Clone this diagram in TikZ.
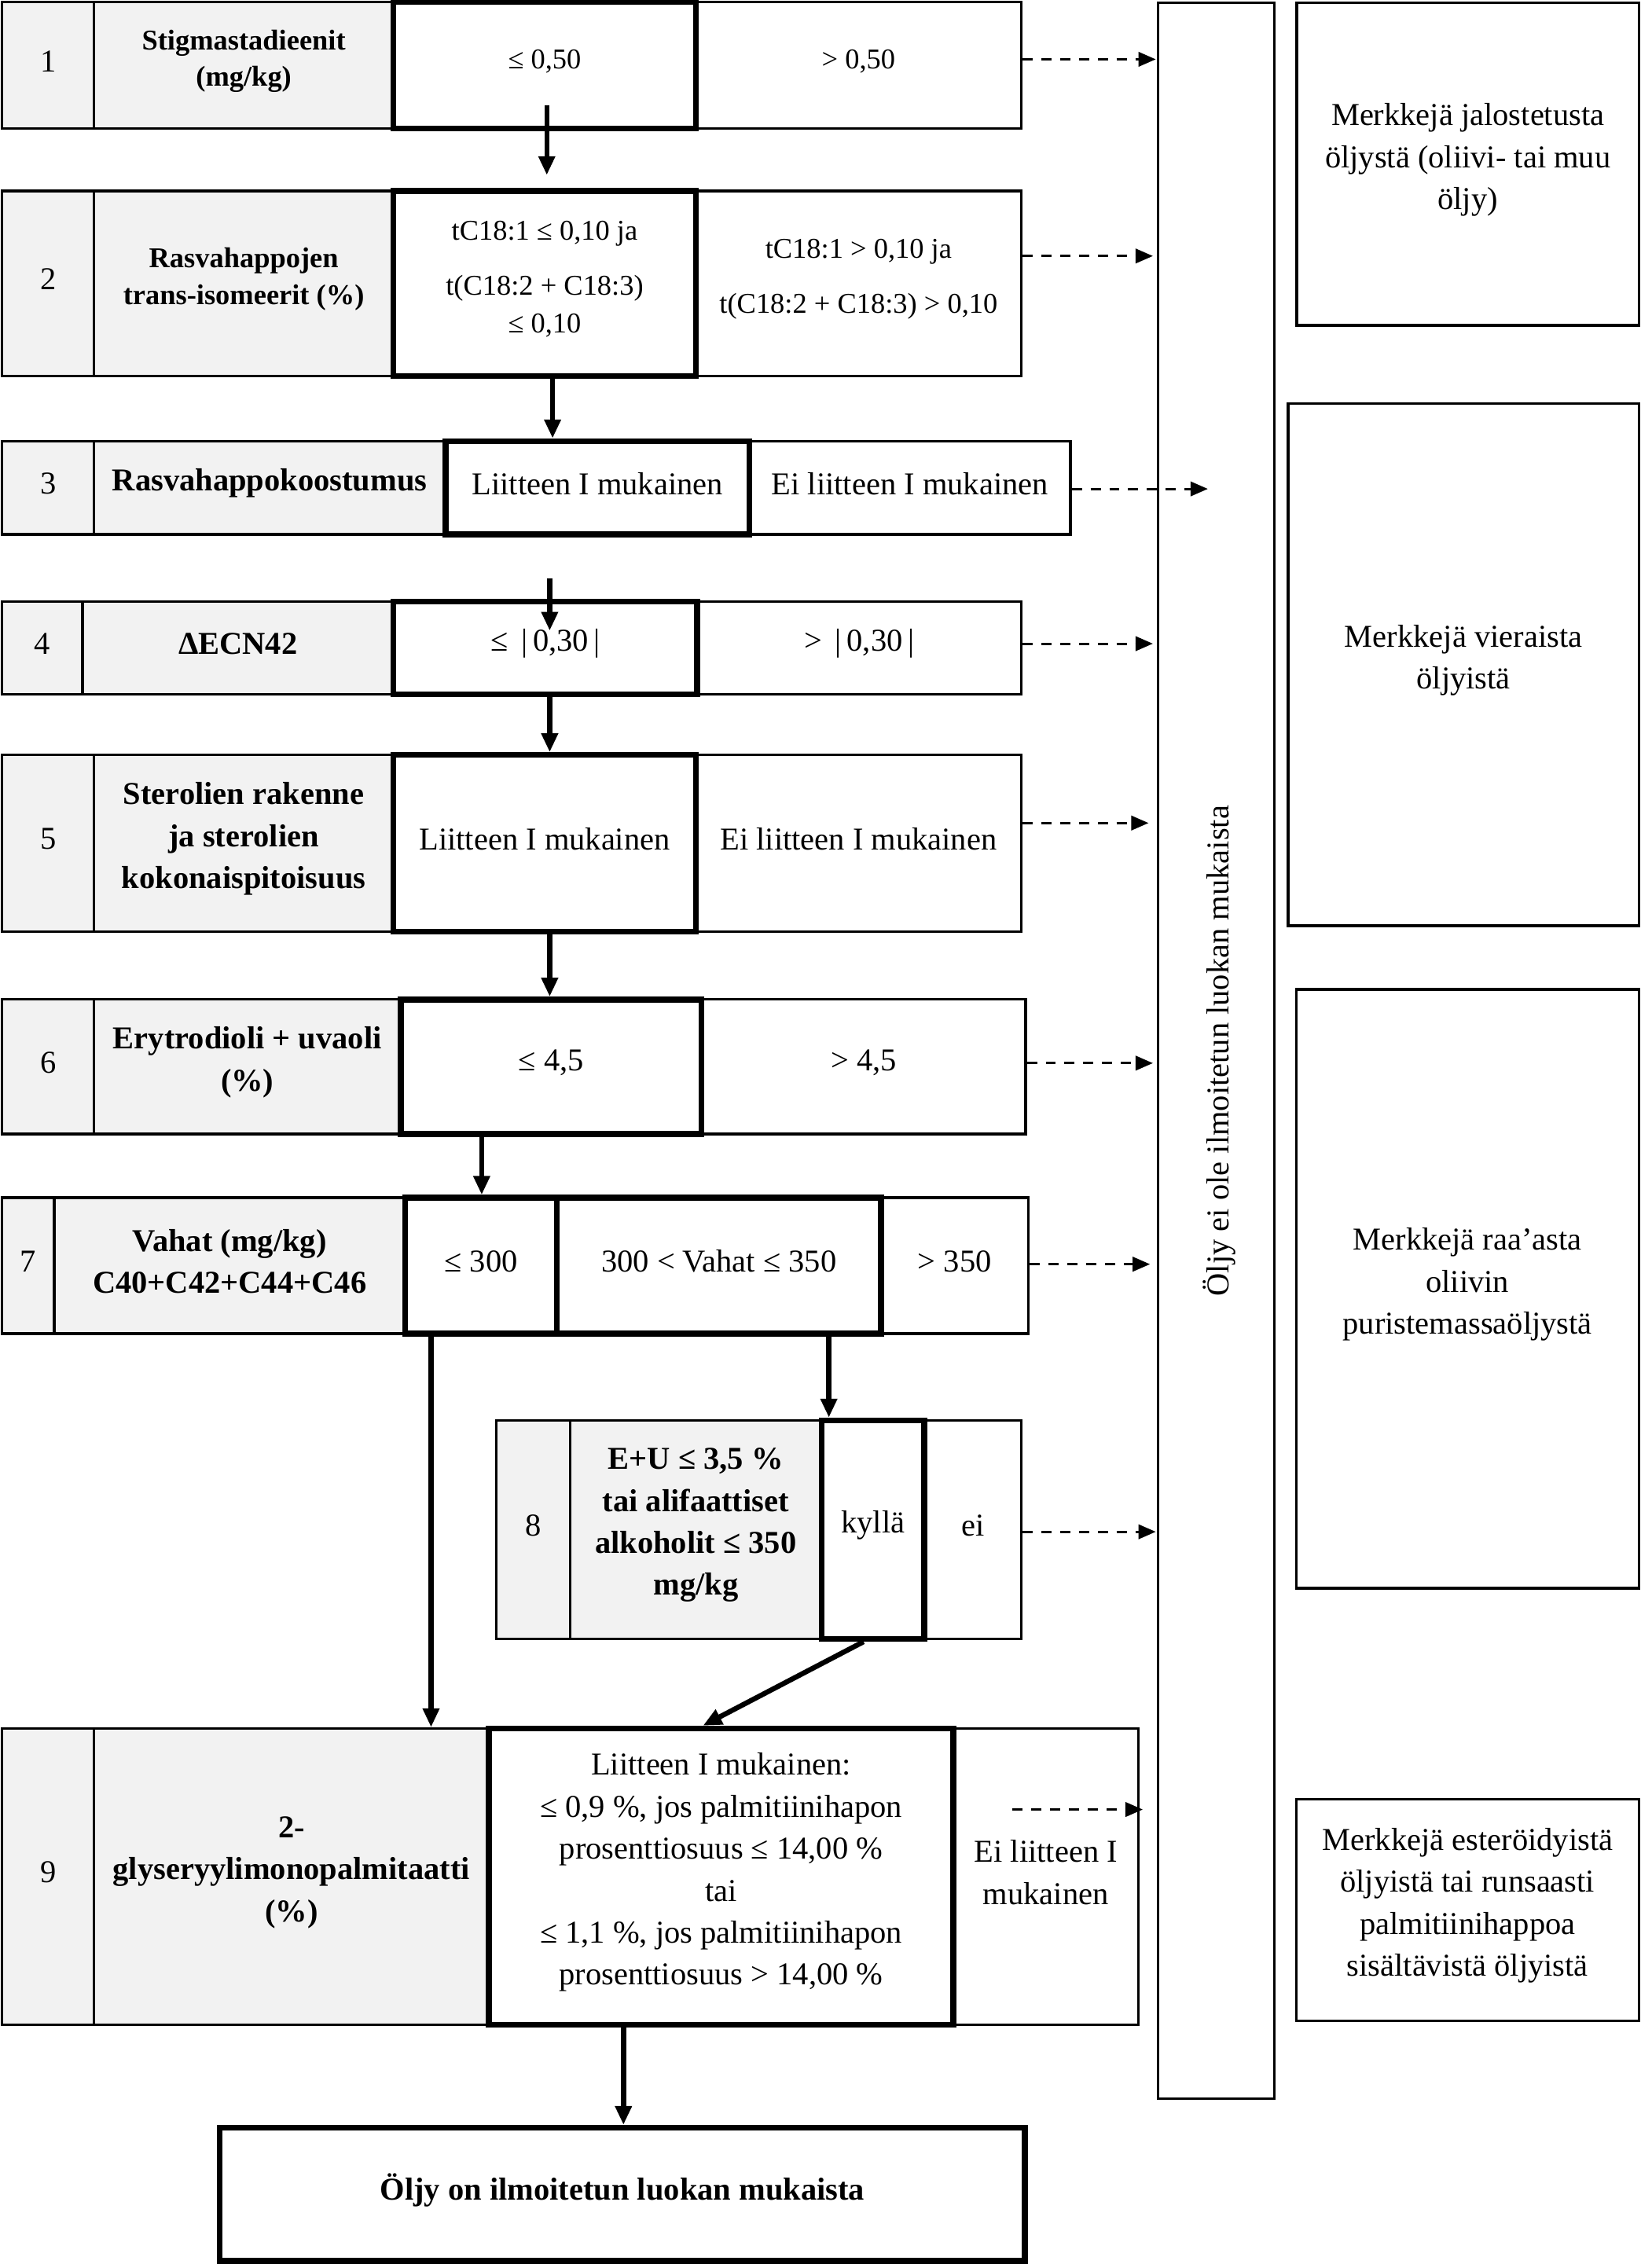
\documentclass[tikz,border=0pt]{standalone}
\usepackage{fontspec}
\setmainfont{Liberation Serif}
\usetikzlibrary{arrows.meta}
\definecolor{cellgray}{RGB}{242,242,242}
% #1 name, #2 box style, #3 text style, #4 x1, #5 y1, #6 x2, #7 y2, #8 text
\newcommand\cellbox[8]{%
  \node[#2, minimum width={(#6)-(#4)}, minimum height={(#7)-(#5)}] (#1) at ({((#4)+(#6))/2},{((#5)+(#7))/2}) {};
  \node[#3, yshift=3pt] (#1t) at (#1.center) {#8};
}
\begin{document}
\begin{tikzpicture}[x=1pt,y=-1pt,
  cellg/.style={draw, line width=1.8pt, fill=cellgray, inner sep=0pt},
  cellw/.style={draw, line width=1.8pt, fill=white, inner sep=0pt},
  cellt/.style={draw, line width=4pt, fill=white, inner sep=0pt},
  txt/.style={font=\fontsize{22}{29}\selectfont, align=center, inner sep=0pt},
  txtb/.style={font=\fontsize{22}{29}\selectfont\bfseries, align=center, inner sep=0pt},
  txts/.style={font=\fontsize{19.8}{26}\selectfont, align=center, inner sep=0pt},
  txtsb/.style={font=\fontsize{19.8}{25}\selectfont\bfseries, align=center, inner sep=0pt},
  arr/.style={line width=3.5pt, -{Triangle[width=11pt,length=13pt]}},
  darr/.style={line width=1.6pt, dash pattern=on 7pt off 6pt, -{Triangle[width=10pt,length=12pt]}}]
\useasboundingbox (0,0) rectangle (1134,1568);

% Row 1
\cellbox{n1}{cellg}{txt}{1.5}{1.5}{65}{89}{1}
\cellbox{l1}{cellg}{txtsb}{65}{1.5}{272}{89}{Stigmastadieenit\\(mg/kg)}
\cellbox{r1d}{cellw}{txts}{481}{1.5}{706}{89}{> 0,50}
\cellbox{r1c}{cellt}{txts}{272}{1.5}{481}{89}{≤ 0,50}

% Row 2
\cellbox{n2}{cellg}{txt}{1.5}{132}{65}{260}{2}
\cellbox{l2}{cellg}{txtsb}{65}{132}{272}{260}{Rasvahappojen\\trans-isomeerit (\%)}
\cellbox{r2d}{cellw}{txts}{481}{132}{706}{260}{tC18:1 > 0,10 ja\\[12pt]t(C18:2 + C18:3) > 0,10}
\cellbox{r2c}{cellt}{txts}{272}{132}{481}{260}{tC18:1 ≤ 0,10 ja\\[12pt]t(C18:2 + C18:3)\\≤ 0,10}

% Row 3
\cellbox{n3}{cellg}{txt}{1.5}{305}{65}{369.5}{3}
\cellbox{l3}{cellg}{txtb}{65}{305}{308}{369.5}{Rasvahappokoostumus}
\cellbox{r3d}{cellw}{txt}{518}{305}{740}{369.5}{Ei liitteen I mukainen}
\cellbox{r3c}{cellt}{txt}{308}{305}{518}{369.5}{Liitteen I mukainen}

% Row 4
\cellbox{n4}{cellg}{txt}{1.5}{416}{57}{480}{4}
\cellbox{l4}{cellg}{txtb}{57}{416}{272}{480}{ΔECN42}
\cellbox{r4d}{cellw}{txt}{482}{416}{706}{480}{> \,|\,0,30\,|}
\cellbox{r4c}{cellt}{txt}{272}{416}{482}{480}{≤ \,|\,0,30\,|}

% Row 5
\cellbox{n5}{cellg}{txt}{1.5}{522}{65}{644}{5}
\cellbox{l5}{cellg}{txtb}{65}{522}{272}{644}{Sterolien rakenne\\ja sterolien\\kokonaispitoisuus}
\cellbox{r5d}{cellw}{txt}{481}{522}{706}{644}{Ei liitteen I mukainen}
\cellbox{r5c}{cellt}{txt}{272}{522}{481}{644}{Liitteen I mukainen}

% Row 6
\cellbox{n6}{cellg}{txt}{1.5}{691}{65}{784}{6}
\cellbox{l6}{cellg}{txtb}{65}{691}{277}{784}{Erytrodioli + uvaoli\\(\%)}
\cellbox{r6d}{cellw}{txt}{485}{691}{709}{784}{> 4,5}
\cellbox{r6c}{cellt}{txt}{277}{691}{485}{784}{≤ 4,5}

% Row 7
\cellbox{n7}{cellg}{txt}{1.5}{828}{37.5}{922}{7}
\cellbox{l7}{cellg}{txtb}{37.5}{828}{280}{922}{Vahat (mg/kg)\\C40+C42+C44+C46}
\cellbox{r7c}{cellw}{txt}{609}{828}{711}{922}{> 350}
\cellbox{r7a}{cellt}{txt}{280}{828}{385}{922}{≤ 300}
\cellbox{r7b}{cellt}{txt}{385}{828}{609}{922}{300 < Vahat ≤ 350}

% Row 8
\cellbox{n8}{cellg}{txt}{343}{982}{394}{1133}{8}
\cellbox{l8}{cellg}{txtb}{394}{982}{568}{1133}{E+U ≤ 3,5 \%\\tai alifaattiset\\alkoholit ≤ 350\\mg/kg}
\cellbox{r8b}{cellw}{txt}{639}{982}{706}{1133}{ei}
\cellbox{r8a}{cellt}{txt}{568}{982}{639}{1133}{kyllä}

% Row 9
\cellbox{n9}{cellg}{txt}{1.5}{1195}{65}{1400}{9}
\cellbox{l9}{cellg}{txtb}{65}{1195}{338}{1400}{2-\\glyseryylimonopalmitaatti\\(\%)}
\cellbox{r9d}{cellw}{txt}{659}{1195}{787}{1400}{Ei liitteen I\\mukainen}
\cellbox{r9c}{cellt}{txt}{338}{1195}{659}{1400}{Liitteen I mukainen:\\≤ 0,9 \%, jos palmitiinihapon\\prosenttiosuus ≤ 14,00 \%\\tai\\≤ 1,1 \%, jos palmitiinihapon\\prosenttiosuus > 14,00 \%}

% Final
\cellbox{fin}{cellt}{txtb}{152}{1471}{708.5}{1563}{Öljy on ilmoitetun luokan mukaista}

% Tall column
\node[cellw, minimum width=80.5, minimum height=1449] (tall) at (840.75,726.5) {};
\node[txt, rotate=90] (tallt) at ([xshift=2pt]tall.center) {Öljy ei ole ilmoitetun luokan mukaista};

% Right boxes
\cellbox{bA}{cellw}{txt}{896.5}{2}{1133}{225}{Merkkejä jalostetusta\\öljystä (oliivi- tai muu\\öljy)}
\cellbox{bB}{cellw}{txt}{890.5}{279}{1133}{640}{Merkkejä vieraista\\öljyistä}
\cellbox{bC}{cellw}{txt}{896}{684}{1133}{1098}{Merkkejä raa’asta\\oliivin\\puristemassaöljystä}
\cellbox{bD}{cellw}{txt}{896}{1244}{1133}{1397}{Merkkejä esteröidyistä\\öljyistä tai runsaasti\\palmitiinihappoa\\sisältävistä öljyistä}

% Solid arrows
\coordinate (a12s) at (378,73);
\coordinate (a12e) at (378,121);
\coordinate (a34s) at (380,400);
\coordinate (a34e) at (380,436);
\draw[arr] (a12s) -- (a12e);
\draw[arr] (382,0 |- r2c.south) -- (382,0 |- r3c.north);
\draw[arr] (a34s) -- (a34e);
\draw[arr] (380,0 |- r4c.south) -- (380,0 |- r5c.north);
\draw[arr] (380,0 |- r5c.south) -- (380,0 |- r6c.north);
\draw[arr] (333,0 |- r6c.south) -- (333,0 |- r7a.north);
\draw[arr] (298,0 |- r7a.south) -- (298,0 |- l9.north);
\draw[arr] (573,0 |- r7b.south) -- (573,0 |- r8a.north);
\draw[arr] (597,0 |- r8a.south) -- (486,0 |- r9c.north);
\draw[arr] (431,0 |- r9c.south) -- (431,0 |- fin.north);

% Dashed arrows
\coordinate (e1) at (799,41);
\coordinate (e2) at (797,177);
\coordinate (e3) at (835,338);
\coordinate (e4) at (797,445);
\coordinate (e5) at (794,569);
\coordinate (e6) at (797,735);
\coordinate (e7) at (795,874);
\coordinate (e8) at (799,1059);
\coordinate (s9) at (700,1251);
\coordinate (e9) at (790,1251);
\draw[darr] (r1d.east |- e1) -- (e1);
\draw[darr] (r2d.east |- e2) -- (e2);
\draw[darr] (r3d.east |- e3) -- (e3);
\draw[darr] (r4d.east |- e4) -- (e4);
\draw[darr] (r5d.east |- e5) -- (e5);
\draw[darr] (r6d.east |- e6) -- (e6);
\draw[darr] (r7c.east |- e7) -- (e7);
\draw[darr] (r8b.east |- e8) -- (e8);
\draw[darr] (s9) -- (e9);
\end{tikzpicture}
\end{document}
